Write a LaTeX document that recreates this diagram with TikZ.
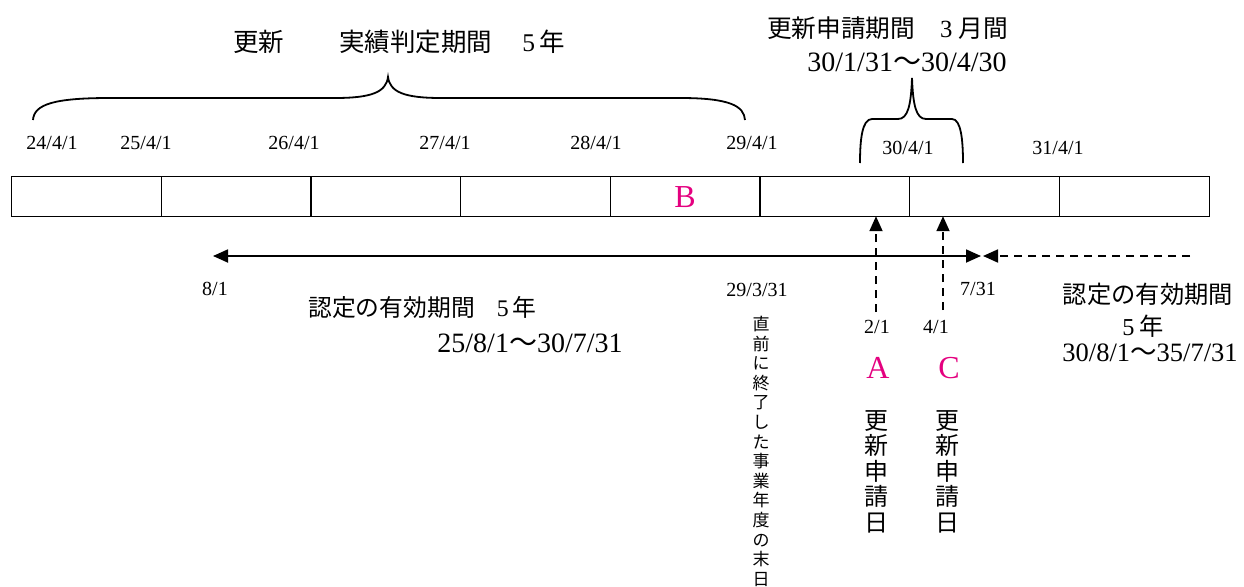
\documentclass[tikz,border=0pt]{standalone}
\usepackage{fontspec}
\setmainfont{Liberation Serif}
\newfontfamily\jp{Noto Sans CJK JP}
\usetikzlibrary{arrows.meta}
\definecolor{mag}{HTML}{E4007F}
\begin{document}
\begin{tikzpicture}[x=1pt,y=-1pt,
  cell/.style={minimum width=149.6pt, minimum height=39pt, inner sep=0pt},
  barline/.style={line width=1.3pt},
  datelbl/.style={font=\fontsize{20}{22}\selectfont, inner sep=0pt},
  bigdate/.style={font=\fontsize{28}{30}\selectfont, inner sep=0pt},
  jtxt/.style={font=\fontsize{25}{27}\selectfont, inner sep=0pt},
  letter/.style={text=mag, font=\fontsize{32}{34}\selectfont, inner sep=0pt},
  vtext/.style={align=center, inner sep=0pt, anchor=north, font=\fontsize{24}{25.5}\selectfont\jp},
  vsmall/.style={align=center, inner sep=0pt, anchor=north, font=\fontsize{17}{19.6}\selectfont\jp},
  bracepath/.style={line width=1.8pt},
  solidarrow/.style={line width=1.8pt, {Triangle[length=15pt,width=13pt]}-{Triangle[length=15pt,width=13pt]}},
  dasharrow/.style={line width=1.8pt, dash pattern=on 8pt off 6pt, -{Triangle[length=15pt,width=13pt]}}
]
\useasboundingbox (0,0) rectangle (1244,586);

% titles
\node[jtxt, font=\fontsize{25.5}{27}\selectfont] (t1) at (399,42) {{\jp 更新}\hspace{55pt}{\jp 実績判定期間}\hspace{30pt}5\hspace{4pt}{\jp 年}};
\node[jtxt, font=\fontsize{24.7}{27}\selectfont] (t2a) at (887.5,28) {{\jp 更新申請期間}\hspace{25pt}3\hspace{6pt}{\jp 月間}};
\node[bigdate] (t2b) at (907,62) {30/1/31{\jp 〜}30/4/30};

% braces
\draw[bracepath] (33,120) .. controls (34,104) and (55,98) .. (110,98) -- (335,98)
  .. controls (372,98) and (386,92) .. (388,77)
  .. controls (390,92) and (404,98) .. (441,98) -- (680,98)
  .. controls (730,98) and (744,106) .. (745,120);
\draw[bracepath] (860,163) .. controls (860,140) and (862,119) .. (872,119) -- (898,119)
  .. controls (908,119) and (911,105) .. (912,78)
  .. controls (913,105) and (916,119) .. (926,119) -- (952,119)
  .. controls (961,119) and (963,140) .. (963,163);

% year dates
\node[datelbl] (d24) at (52,143) {24/4/1};
\node[datelbl] (d25) at (146,143) {25/4/1};
\node[datelbl] (d26) at (294,143) {26/4/1};
\node[datelbl] (d27) at (445,143) {27/4/1};
\node[datelbl] (d28) at (596,143) {28/4/1};
\node[datelbl] (d29) at (752,143) {29/4/1};
\node[datelbl] (d30) at (908,148) {30/4/1};
\node[datelbl] (d31) at (1058,148) {31/4/1};

% bar
\node[cell] (c1) at (86.8,196.5) {};
\node[cell] (c2) at (236.4,196.5) {};
\node[cell] (c3) at (386.1,196.5) {};
\node[cell] (c4) at (535.7,196.5) {};
\node[cell] (c5) at (685.3,196.5) {};
\node[cell] (c6) at (834.9,196.5) {};
\node[cell] (c7) at (984.6,196.5) {};
\node[cell] (c8) at (1134.2,196.5) {};
\draw[barline] (c1.north west) rectangle (c8.south east);
\foreach \i in {2,...,8} {\draw[barline] (c\i.north west) -- (c\i.south west);}
\node[letter] (lB) at (685,197) {B};

% horizontal arrows
\coordinate (hL) at (213,256);
\coordinate (hR) at (981,256);
\coordinate (h2L) at (983,256);
\coordinate (h2R) at (1190,256);
\draw[solidarrow] (hL) -- (hR);
\draw[dasharrow] (h2R) -- (h2L);

% vertical dashed arrows
\coordinate (vA) at (876,312);
\coordinate (vC) at (943,310);
\draw[dasharrow] (vA) -- (vA |- c6.south);
\draw[dasharrow] (vC) -- (vC |- c7.south);

% lower dates
\node[datelbl] (e81) at (215,289) {8/1};
\node[datelbl] (e2933) at (757,290) {29/3/31};
\node[datelbl] (e731) at (978,289) {7/31};
\node[datelbl] (e21) at (877,327) {2/1};
\node[datelbl] (e41) at (936,327) {4/1};

% validity period texts
\node[jtxt, font=\fontsize{23.8}{26}\selectfont] (v1) at (422.5,307) {{\jp 認定の有効期間}\hspace{22pt}5\hspace{4pt}{\jp 年}};
\node[bigdate] (v1d) at (530,343) {25/8/1{\jp 〜}30/7/31};
\node[jtxt, font=\fontsize{24.3}{26}\selectfont] (v2) at (1148,294) {\jp 認定の有効期間};
\node[jtxt, font=\fontsize{24.3}{26}\selectfont] (v2y) at (1143,326) {5\hspace{5pt}{\jp 年}};
\node[bigdate, font=\fontsize{26.5}{28}\selectfont] (v2d) at (1150,353) {30/8/1{\jp 〜}35/7/31};

% letters A and C
\node[letter] (lA) at (878,368) {A};
\node[letter] (lC) at (949,368) {C};

% vertical texts
\node[vtext] (vtA) at (876,410) {更\\新\\申\\請\\日};
\node[vtext] (vtC) at (947,410) {更\\新\\申\\請\\日};
\node[vsmall] (vtE) at (761,316) {直\\前\\に\\終\\了\\し\\た\\事\\業\\年\\度\\の\\末\\日};
\end{tikzpicture}
\end{document}
